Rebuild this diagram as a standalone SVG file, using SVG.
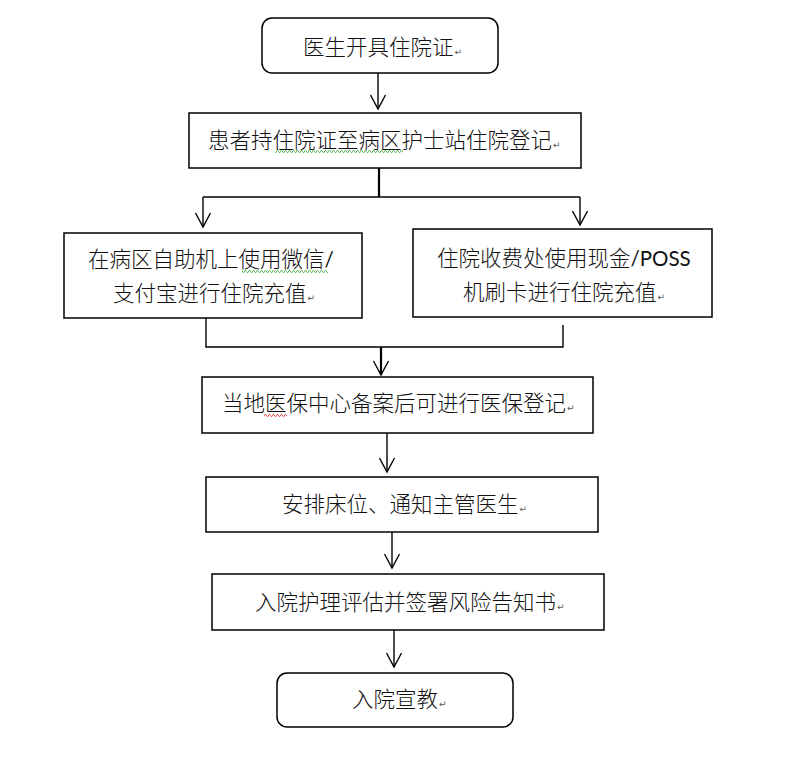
<svg xmlns="http://www.w3.org/2000/svg" width="785" height="765" viewBox="0 0 785 765">
<style>
.box{fill:#fff;stroke:#000;stroke-width:1.5}
.t{font-family:"Noto Sans CJK SC","Noto Sans",sans-serif;font-size:21.5px;font-weight:300;fill:#111}
.lat{font-family:Lato,"Liberation Sans",sans-serif;font-weight:400;font-size:20.5px}
.pm{font-family:"DejaVu Sans",sans-serif;font-size:9px;fill:#555;font-weight:400}
.c{fill:none;stroke:#000;stroke-width:1.4}
.thick{stroke-width:2.2}
</style>
<defs>
<marker id="arr" viewBox="-16 -9 18 18" refX="0" refY="0" markerWidth="18" markerHeight="18" markerUnits="userSpaceOnUse" orient="auto" overflow="visible">
<path d="M-14,-7.5 L0,0 L-14,7.5" fill="none" stroke="#000" stroke-width="1.4"/>
</marker>
<pattern id="wg" x="0" y="0" width="4" height="3" patternUnits="userSpaceOnUse">
<path d="M0,2.5 L1,0.5 L2,0.5 L3,2.5 L4,2.5" fill="none" stroke="#4a4" stroke-width="0.8"/>
</pattern>
<pattern id="wr" x="0" y="0" width="4" height="3" patternUnits="userSpaceOnUse">
<path d="M0,2.5 L1,0.5 L2,0.5 L3,2.5 L4,2.5" fill="none" stroke="#e33" stroke-width="0.8"/>
</pattern>
</defs>
<rect width="785" height="765" fill="#fff"/>

<g id="connectors">
<line class="c" x1="378" y1="73" x2="378" y2="109" marker-end="url(#arr)"/>
<line class="c thick" x1="379" y1="168" x2="379" y2="197"/>
<line class="c" x1="203" y1="197" x2="580" y2="197"/>
<line class="c" x1="203" y1="197" x2="203" y2="227" marker-end="url(#arr)"/>
<line class="c" x1="580" y1="197" x2="580" y2="225" marker-end="url(#arr)"/>
<polyline class="c" points="206,318 206,347 563,347 563,325"/>
<line class="c thick" x1="381" y1="347" x2="381" y2="375" marker-end="url(#arr)"/>
<line class="c" x1="387" y1="433" x2="387" y2="472" marker-end="url(#arr)"/>
<line class="c" x1="392" y1="532" x2="392" y2="568" marker-end="url(#arr)"/>
<line class="c" x1="394" y1="630" x2="394" y2="667" marker-end="url(#arr)"/>
</g>

<g id="node1">
<rect class="box" x="262" y="18" width="236" height="55" rx="10"/>
<text class="t" x="303" y="55">医生开具住院证<tspan class="pm" dx="1">↵</tspan></text>
</g>

<g id="node2">
<rect class="box" x="189" y="113" width="392" height="55"/>
<text class="t" x="208" y="148" font-size="22">患者持住院证至病区护士站住院登记<tspan class="pm" dx="1">↵</tspan></text>
<rect x="275" y="150" width="128" height="3" fill="url(#wg)"/>
</g>

<g id="node3">
<rect class="box" x="64" y="233" width="298" height="85"/>
<text class="t" x="88" y="267">在病区自助机上使用微信<tspan class="lat">/</tspan></text>
<text class="t" x="113" y="301">支付宝进行住院充值<tspan class="pm" dx="1">↵</tspan></text>
<rect x="242" y="270" width="86" height="3" fill="url(#wg)"/>
</g>

<g id="node4">
<rect class="box" x="413" y="229" width="299" height="88"/>
<text class="t" x="437" y="266">住院收费处使用现金<tspan class="lat">/POSS</tspan></text>
<text class="t" x="463" y="300">机刷卡进行住院充值<tspan class="pm" dx="1">↵</tspan></text>
</g>

<g id="node5">
<rect class="box" x="202" y="377" width="391" height="56"/>
<text class="t" x="222" y="411">当地医保中心备案后可进行医保登记<tspan class="pm" dx="1">↵</tspan></text>
<rect x="264" y="414" width="23" height="3" fill="url(#wr)"/>
</g>

<g id="node6">
<rect class="box" x="206" y="477" width="392" height="55"/>
<text class="t" x="282" y="512">安排床位、通知主管医生<tspan class="pm" dx="1">↵</tspan></text>
</g>

<g id="node7">
<rect class="box" x="212" y="574" width="392" height="56"/>
<text class="t" x="255" y="610">入院护理评估并签署风险告知书<tspan class="pm" dx="1">↵</tspan></text>
</g>

<g id="node8">
<rect class="box" x="277" y="673" width="236" height="54" rx="10"/>
<text class="t" x="352" y="707">入院宣教<tspan class="pm" dx="1">↵</tspan></text>
</g>
</svg>
